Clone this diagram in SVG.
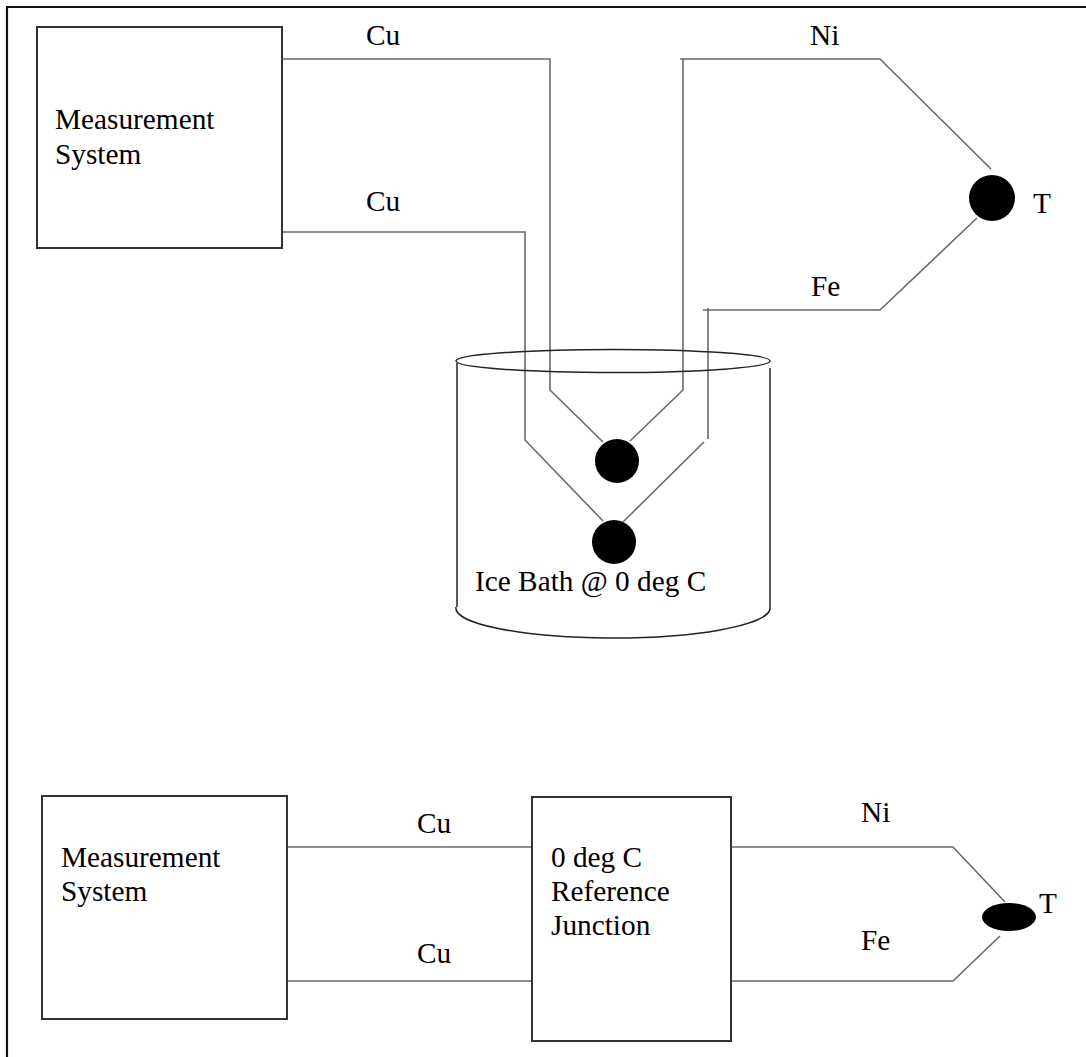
<svg xmlns="http://www.w3.org/2000/svg" width="1086" height="1057" viewBox="0 0 1086 1057">
  <style>
    .box { fill: #fff; stroke: #333; stroke-width: 2; }
    .wire { fill: none; stroke: #6a6a6a; stroke-width: 1.6; }
    .bath { fill: none; stroke: #222; stroke-width: 1.5; }
    .dot { fill: #000; }
  </style>
  <rect x="0" y="0" width="1086" height="1057" fill="#fff"/>
  <path id="frame" d="M7,1057 V7 H1086" fill="none" stroke="#111" stroke-width="2.2"/>

  <g id="connectors">
    <path class="wire" d="M282,59 H550 V390 L603,442"/>
    <path class="wire" d="M282,232 H525 V440 L603,521"/>
    <path class="wire" d="M680,59 H880 L991,169"/>
    <path class="wire" d="M683,59 V390 L630,441"/>
    <path class="wire" d="M703,310 H880 L977,218"/>
    <path class="wire" d="M708,308 V439"/>
    <path class="wire" d="M704,442 L623,522"/>
    <path class="wire" d="M287,847 H532"/>
    <path class="wire" d="M287,981 H532"/>
    <path class="wire" d="M731,847 H953 L1005,902"/>
    <path class="wire" d="M731,981 H953 L1000,936"/>
  </g>

  <g font-family="Liberation Serif, DejaVu Serif, serif" font-size="29.3" fill="#000">
    <g id="ice-bath">
      <ellipse class="bath" cx="613" cy="361" rx="157" ry="11.5"/>
      <path class="bath" d="M457,363 V607"/>
      <path class="bath" d="M770,368 V610"/>
      <path class="bath" d="M456,607 A157,30 0 0 0 770,609"/>
      <text x="475" y="591">Ice Bath @ 0 deg C</text>
    </g>

    <g id="wire-labels">
      <text x="366" y="45">Cu</text>
      <text x="366" y="211">Cu</text>
      <text x="810" y="45">Ni</text>
      <text x="811" y="296">Fe</text>
      <text x="417" y="833">Cu</text>
      <text x="417" y="963">Cu</text>
      <text x="861" y="822">Ni</text>
      <text x="861" y="950">Fe</text>
    </g>

    <g id="measurement-top">
      <rect class="box" x="37" y="27" width="245" height="221"/>
      <text x="55" y="129">Measurement</text>
      <text x="55" y="164">System</text>
    </g>

    <g id="junction-ice-top">
      <circle class="dot" cx="617" cy="461" r="22"/>
    </g>
    <g id="junction-ice-bottom">
      <circle class="dot" cx="614" cy="542" r="22"/>
    </g>
    <g id="junction-T-top">
      <circle class="dot" cx="992" cy="198" r="23"/>
      <text x="1033" y="213">T</text>
    </g>

    <g id="measurement-bottom">
      <rect class="box" x="42" y="796" width="245" height="223"/>
      <text x="61" y="867">Measurement</text>
      <text x="61" y="901">System</text>
    </g>

    <g id="reference-junction">
      <rect class="box" x="532" y="797" width="199" height="244"/>
      <text x="551" y="867">0 deg C</text>
      <text x="551" y="901">Reference</text>
      <text x="551" y="935">Junction</text>
    </g>

    <g id="junction-T-bottom">
      <ellipse class="dot" cx="1009" cy="917" rx="27" ry="14"/>
      <text x="1039" y="913">T</text>
    </g>
  </g>
</svg>
